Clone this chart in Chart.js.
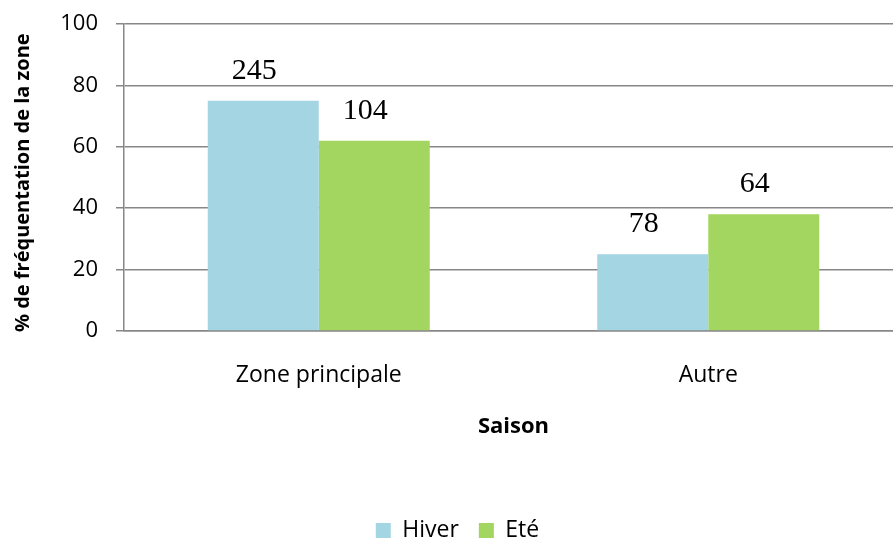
<!DOCTYPE html>
<html>
<head>
<meta charset="utf-8">
<script src="https://cdn.jsdelivr.net/npm/chart.js@4.4.1/dist/chart.umd.min.js"></script>
<style>
  html, body { margin: 0; padding: 0; background: #fff; overflow: hidden; }
  #wrap { position: relative; width: 903px; height: 539px; }
</style>
</head>
<body>
<div id="wrap"><canvas id="chart"></canvas></div>
<script>
const categories = ['Zone principale', 'Autre'];
const hiverValues = [75, 25];
const eteValues = [62, 38];
const hiverCounts = [245, 78];
const eteCounts = [104, 64];
const yTicks = [0, 20, 40, 60, 80, 100];

const FONT = "'Open Sans', sans-serif";

// counts written above each bar, in a serif face like the original
const countLabels = {
    id: 'countLabels',
    afterDatasetsDraw(chart) {
        const ctx = chart.ctx;
        ctx.save();
        ctx.font = "30px 'Liberation Serif', 'DejaVu Serif', serif";
        ctx.fillStyle = '#000';
        ctx.textAlign = 'center';
        ctx.textBaseline = 'alphabetic';
        chart.data.datasets.forEach((ds, i) => {
            chart.getDatasetMeta(i).data.forEach((bar, j) => {
                ctx.fillText(String(ds.counts[j]), bar.x - 9, bar.y - 22);
            });
        });
        ctx.restore();
    }
};

const ctx = document.getElementById('chart').getContext('2d');
new Chart(ctx, {
    type: 'bar',
    data: {
        labels: categories,
        datasets: [
            { label: 'Hiver', data: hiverValues, counts: hiverCounts, backgroundColor: '#a3d5e3' },
            { label: 'Eté', data: eteValues, counts: eteCounts, backgroundColor: '#a3d660' }
        ]
    },
    options: {
        responsive: true,
        maintainAspectRatio: false,
        animation: false,
        layout: { padding: { top: 24, left: 12, right: 0, bottom: -13 } },
        datasets: { bar: { barPercentage: 1, categoryPercentage: 0.57 } },
        scales: {
            x: {
                afterFit(scale) { scale.height = 168; },
                grid: { display: false, drawTicks: false },
                border: { color: '#878787', width: 1.5 },
                ticks: { color: '#000', padding: 31, font: { family: FONT, size: 23 } },
                title: {
                    display: true, text: 'Saison', color: '#000',
                    font: { family: FONT, size: 22, weight: 'bold' },
                    padding: { top: 20, bottom: 59 }
                }
            },
            y: {
                min: 0, max: 100,
                afterBuildTicks(scale) { scale.ticks = yTicks.map(v => ({ value: v })); },
                afterFit(scale) {
                    scale.width = 112;
                    scale.paddingTop = 0;
                    scale.paddingBottom = 0;
                },
                grid: { color: '#878787', lineWidth: 1.5, tickLength: 8 },
                border: { color: '#878787', width: 1.5 },
                ticks: { color: '#000', padding: 18, font: { family: FONT, size: 22 } },
                title: {
                    display: true, text: '% de fréquentation de la zone  ', color: '#000',
                    font: { family: FONT, size: 20, weight: 'bold' },
                    padding: { top: -1, bottom: 0 }
                }
            }
        },
        plugins: {
            legend: {
                position: 'bottom',
                labels: {
                    color: '#000', boxWidth: 15, boxHeight: 15, padding: 20,
                    font: { family: FONT, size: 23 }
                }
            },
            tooltip: { enabled: false }
        }
    },
    plugins: [countLabels]
});
</script>
</body>
</html>
